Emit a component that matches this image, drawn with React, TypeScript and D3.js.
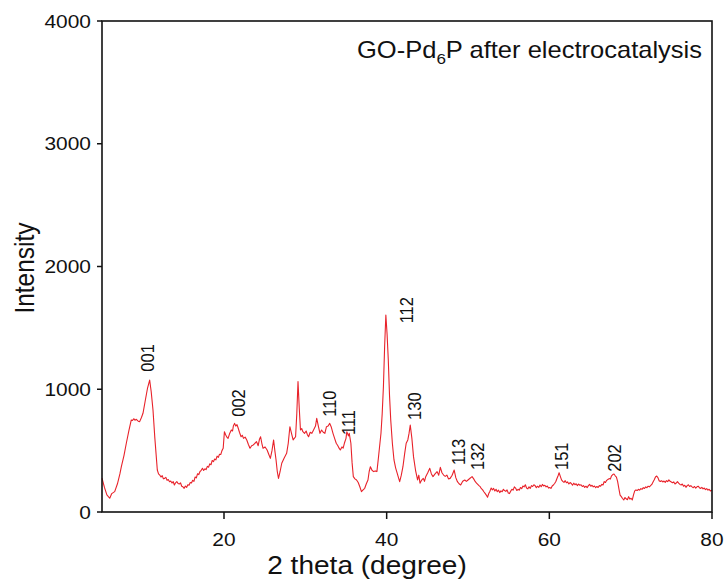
import React from "react";
import * as d3 from "d3";

// XRD pattern: [2 theta (degree), intensity]
const xrdPattern: [number, number][] = [
  [5.0, 275], [5.3, 200], [5.6, 140], [5.95, 112], [6.2, 150], [6.56, 166], [6.9, 230], [7.2, 310], [7.38, 369], [7.7, 460],
  [7.99, 560], [8.3, 660], [8.6, 750], [8.75, 745], [8.9, 760], [9.05, 748], [9.22, 755], [9.45, 740], [9.63, 736], [9.85, 770],
  [10.04, 804], [10.3, 900], [10.6, 1010], [10.86, 1075], [11.05, 980], [11.27, 831], [11.5, 600], [11.8, 342], [11.95, 310], [12.1, 301],
  [12.25, 285], [12.4, 296], [12.55, 270], [12.7, 274], [12.85, 282], [13.0, 258], [13.15, 265], [13.3, 247], [13.45, 252], [13.6, 236],
  [13.75, 248], [13.9, 220], [14.05, 238], [14.2, 248], [14.35, 232], [14.5, 228], [14.65, 238], [14.8, 210], [14.95, 205], [15.1, 193],
  [15.25, 212], [15.4, 200], [15.55, 222], [15.7, 218], [15.85, 240], [16.0, 236], [16.15, 258], [16.3, 250], [16.45, 285], [16.6, 278],
  [16.75, 312], [16.9, 305], [17.05, 330], [17.2, 340], [17.35, 356], [17.5, 338], [17.65, 352], [17.8, 345], [17.95, 372], [18.1, 365],
  [18.25, 392], [18.4, 385], [18.55, 420], [18.7, 410], [18.85, 432], [19.0, 425], [19.15, 455], [19.3, 445], [19.45, 470], [19.6, 468],
  [19.75, 500], [19.9, 519], [20.05, 654], [20.2, 630], [20.35, 610], [20.5, 600], [20.7, 640], [20.9, 668], [21.05, 660], [21.15, 700],
  [21.3, 722], [21.45, 700], [21.6, 712], [21.75, 682], [21.9, 650], [22.1, 613], [22.25, 625], [22.4, 600], [22.6, 610], [22.8, 587],
  [23.0, 550], [23.2, 519], [23.4, 540], [23.6, 546], [23.8, 560], [24.0, 573], [24.2, 540], [24.35, 590], [24.5, 613], [24.65, 560],
  [24.8, 519], [25.05, 530], [25.3, 505], [25.5, 470], [25.7, 437], [25.9, 500], [26.1, 587], [26.25, 500], [26.4, 424], [26.55, 330],
  [26.7, 274], [26.9, 330], [27.1, 397], [27.4, 440], [27.7, 478], [27.9, 560], [28.1, 695], [28.3, 640], [28.5, 587], [28.8, 613],
  [28.95, 800], [29.1, 1062], [29.25, 850], [29.4, 668], [29.55, 680], [29.7, 654], [29.9, 641], [30.1, 660], [30.25, 630], [30.4, 613],
  [30.6, 650], [30.8, 641], [30.95, 660], [31.1, 680], [31.25, 700], [31.4, 763], [31.6, 700], [31.8, 641], [32.0, 668], [32.2, 650],
  [32.4, 641], [32.6, 695], [32.8, 700], [33.0, 722], [33.2, 690], [33.4, 641], [33.6, 600], [33.8, 560], [34.0, 540], [34.15, 520],
  [34.3, 505], [34.5, 530], [34.65, 520], [34.8, 560], [35.0, 600], [35.1, 654], [35.3, 620], [35.4, 641], [35.6, 560], [35.75, 400],
  [35.9, 288], [36.1, 270], [36.3, 261], [36.5, 240], [36.7, 206], [36.9, 166], [37.1, 180], [37.3, 193], [37.5, 230], [37.7, 261],
  [37.85, 330], [38.0, 369], [38.2, 340], [38.4, 329], [38.6, 335], [38.8, 329], [39.0, 450], [39.3, 641], [39.45, 800], [39.6, 1021],
  [39.75, 1350], [39.9, 1605], [40.05, 1450], [40.2, 1238], [40.35, 950], [40.5, 750], [40.7, 560], [40.9, 424], [41.1, 360], [41.3, 315],
  [41.45, 280], [41.6, 247], [41.8, 300], [42.0, 369], [42.2, 470], [42.4, 560], [42.6, 587], [42.75, 640], [42.9, 709], [43.1, 600],
  [43.3, 451], [43.55, 340], [43.8, 261], [43.95, 300], [44.1, 234], [44.3, 260], [44.5, 274], [44.65, 250], [44.8, 288], [45.05, 320],
  [45.3, 356], [45.5, 310], [45.7, 288], [45.95, 310], [46.2, 329], [46.4, 300], [46.6, 364], [46.8, 320], [47.0, 301], [47.2, 290],
  [47.4, 301], [47.6, 270], [47.8, 274], [48.05, 300], [48.3, 342], [48.5, 280], [48.7, 247], [48.9, 230], [49.1, 220], [49.35, 250],
  [49.6, 261], [49.8, 250], [50.0, 261], [50.25, 275], [50.5, 288], [50.7, 270], [50.9, 247], [51.05, 235], [51.2, 225], [51.35, 215],
  [51.5, 206], [51.65, 190], [51.8, 180], [51.95, 165], [52.1, 152], [52.25, 138], [52.4, 120], [52.55, 150], [52.7, 170], [52.85, 195],
  [53.0, 180], [53.15, 192], [53.3, 172], [53.45, 185], [53.6, 165], [53.75, 178], [53.9, 158], [54.05, 172], [54.2, 165], [54.35, 185],
  [54.5, 175], [54.65, 168], [54.8, 180], [54.95, 155], [55.1, 150], [55.25, 170], [55.4, 185], [55.55, 178], [55.7, 205], [55.85, 195],
  [56.0, 175], [56.15, 185], [56.3, 178], [56.45, 200], [56.6, 190], [56.75, 212], [56.9, 205], [57.05, 222], [57.2, 195], [57.35, 188],
  [57.5, 205], [57.65, 192], [57.8, 215], [57.95, 208], [58.1, 222], [58.25, 215], [58.4, 198], [58.55, 210], [58.7, 200], [58.85, 220],
  [59.0, 206], [59.15, 225], [59.3, 212], [59.45, 218], [59.6, 205], [59.75, 212], [59.9, 195], [60.05, 200], [60.2, 192], [60.35, 212],
  [60.5, 220], [60.65, 232], [60.8, 248], [60.95, 275], [61.1, 300], [61.2, 320], [61.35, 290], [61.5, 262], [61.65, 250], [61.8, 242],
  [61.95, 255], [62.1, 238], [62.25, 245], [62.4, 228], [62.55, 240], [62.7, 232], [62.85, 218], [63.0, 235], [63.15, 222], [63.3, 230],
  [63.45, 215], [63.6, 228], [63.75, 218], [63.9, 222], [64.05, 208], [64.2, 215], [64.35, 200], [64.5, 210], [64.65, 198], [64.8, 215],
  [64.95, 225], [65.1, 210], [65.25, 218], [65.4, 205], [65.55, 212], [65.7, 198], [65.85, 208], [66.0, 200], [66.15, 215], [66.3, 210],
  [66.45, 225], [66.6, 220], [66.75, 248], [66.9, 240], [67.05, 258], [67.2, 265], [67.35, 272], [67.5, 268], [67.65, 295], [67.8, 305],
  [67.95, 310], [68.1, 295], [68.25, 285], [68.4, 247], [68.55, 190], [68.7, 138], [68.85, 125], [69.0, 110], [69.15, 98], [69.3, 118],
  [69.45, 108], [69.6, 100], [69.75, 125], [69.9, 105], [70.05, 112], [70.2, 98], [70.35, 140], [70.5, 172], [70.65, 180], [70.8, 175],
  [70.95, 185], [71.1, 178], [71.25, 190], [71.4, 185], [71.55, 198], [71.7, 192], [71.85, 205], [72.0, 198], [72.15, 210], [72.3, 205],
  [72.45, 215], [72.6, 225], [72.75, 245], [72.9, 262], [73.05, 285], [73.2, 293], [73.35, 280], [73.5, 255], [73.65, 248], [73.8, 255],
  [73.95, 245], [74.1, 252], [74.25, 242], [74.4, 255], [74.55, 248], [74.7, 262], [74.85, 250], [75.0, 245], [75.15, 238], [75.3, 245],
  [75.45, 228], [75.6, 236], [75.75, 248], [75.9, 235], [76.05, 225], [76.2, 220], [76.35, 228], [76.5, 210], [76.65, 218], [76.8, 201],
  [76.95, 215], [77.1, 222], [77.25, 208], [77.4, 215], [77.55, 205], [77.7, 198], [77.85, 208], [78.0, 195], [78.15, 205], [78.3, 210],
  [78.45, 198], [78.6, 192], [78.75, 200], [78.9, 188], [79.05, 195], [79.2, 182], [79.35, 190], [79.5, 178], [79.65, 185], [79.8, 172],
  [80.0, 178],
];

const peakNames = ["001", "002", "110", "111", "112", "130", "113", "132", "151", "202"];
const peakLabelTheta = [10.66, 21.76, 32.95, 35.28, 42.47, 43.49, 48.81, 51.15, 61.52, 68.08];
const peakLabelIntensity = [1143, 776, 776, 627, 1537, 750, 383, 342, 342, 328];

const xTicks = [20, 40, 60, 80];
const yTicks = [0, 1000, 2000, 3000, 4000];

const W = 727;
const H = 583;
const M = { left: 102, top: 21, right: 15, bottom: 71 };
const SX = 1.1;
const FONT = "'Liberation Sans', Arial, sans-serif";

function T({ x, y, size, anchor = "start", rotate = 0, children, dy }: any) {
  return (
    <g transform={`translate(${x},${y}) scale(${SX},1) rotate(${rotate})`}>
      <text textAnchor={anchor} fontSize={size} fontFamily={FONT} fill="#111" dy={dy}>
        {children}
      </text>
    </g>
  );
}

export default function App() {
  const x = d3.scaleLinear().domain([5, 80]).range([M.left, W - M.right]);
  const y = d3.scaleLinear().domain([0, 4000]).range([H - M.bottom, M.top]);
  const line = d3
    .line<[number, number]>()
    .x((d) => x(d[0]))
    .y((d) => y(d[1]));
  const x0 = M.left;
  const x1 = W - M.right;
  const y0 = H - M.bottom;
  const y1 = M.top;

  return (
    <svg width={W} height={H} style={{ position: "absolute", left: 0, top: 0, background: "#fff" }}>
      <path d={line(xrdPattern) || ""} fill="none" stroke="#e8222a" strokeWidth={1.1} strokeLinejoin="round" />
      <rect x={x0} y={y1} width={x1 - x0} height={y0 - y1} fill="none" stroke="#111" strokeWidth={1.6} />
      {xTicks.map((t) => (
        <g key={"xt" + t}>
          <line x1={x(t)} x2={x(t)} y1={y0} y2={y0 + 7} stroke="#111" strokeWidth={1.5} />
          <T x={x(t)} y={y0 + 34} size={19} anchor="middle">
            {t}
          </T>
        </g>
      ))}
      {yTicks.map((t) => (
        <g key={"yt" + t}>
          <line x1={x0 - 5} x2={x0} y1={y(t)} y2={y(t)} stroke="#111" strokeWidth={1.5} />
          <T x={x0 - 11} y={y(t)} size={19} anchor="end" dy="0.35em">
            {t}
          </T>
        </g>
      ))}
      {peakNames.map((n, i) => (
        <T key={n} x={x(peakLabelTheta[i])} y={y(peakLabelIntensity[i])} size={16.5} rotate={-90} dy="0.35em">
          {n}
        </T>
      ))}
      <T x={367} y={574} size={25.5} anchor="middle">
        2 theta (degree)
      </T>
      <T x={34} y={268} size={24.5} anchor="middle" rotate={-90}>
        Intensity
      </T>
      <T x={702} y={58} size={23.2} anchor="end">
        GO-Pd
        <tspan fontSize={15.5} dy={6}>6</tspan>
        <tspan dy={-6}>P after electrocatalysis</tspan>
      </T>
    </svg>
  );
}
